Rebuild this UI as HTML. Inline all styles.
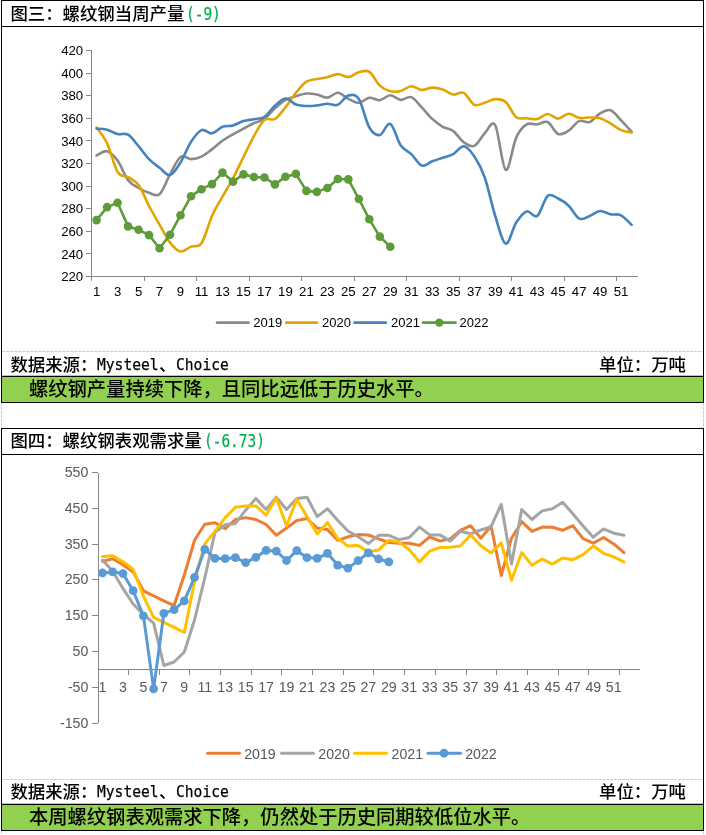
<!DOCTYPE html>
<html><head><meta charset="utf-8">
<style>
html,body{margin:0;padding:0;background:#fff}
body{width:706px;height:835px;position:relative;overflow:hidden}
.hl{position:absolute;left:1px;width:703px;height:1px;background:#000}
.vl{position:absolute;width:1px;background:#000}
.dh{position:absolute;left:2px;width:701px;height:1px;background:repeating-linear-gradient(90deg,#cbcbcb 0 3px,#fff 3px 4px)}
.dv{position:absolute;width:1px;background:repeating-linear-gradient(180deg,#cbcbcb 0 3px,#fff 3px 4px)}
.lg{position:absolute;left:2px;width:701px;height:1px;background:#a8db6e}
.green{position:absolute;left:1px;width:701px;height:25px;background:#92D050;border:1px solid #000}
.t1{position:absolute;left:10.4px;font-family:"Liberation Sans", "Noto Sans CJK SC", sans-serif;font-weight:500;font-size:17.4px;line-height:22px;color:#000;white-space:nowrap}
.lat{display:inline-block;position:relative;top:-1px;-webkit-text-stroke:0.25px #000;font-family:"DejaVu Sans Mono", "Liberation Mono", monospace;font-weight:400;font-size:16px;transform:scaleX(0.9136);transform-origin:0 0}
.num{color:#00B050;-webkit-text-stroke:0.25px #00B050;top:0;font-size:17.4px;transform:scaleX(0.8305);margin-left:2px}
.unit{left:599px}
.note{position:absolute;left:29px;font-family:"Liberation Sans", "Noto Sans CJK SC", sans-serif;font-weight:500;font-size:19.3px;line-height:24px;color:#000;white-space:nowrap}
svg{position:absolute;left:0;top:0}
</style></head><body>
<div class="hl" style="top:0px"></div>
<div class="hl" style="top:26px"></div>
<div class="vl" style="top:0px;height:403px;left:1px"></div>
<div class="vl" style="top:0px;height:403px;left:703px"></div>
<div class="dh" style="top:351px"></div>
<div class="lg" style="top:375px"></div>
<div class="green" style="top:376px"></div>
<div class="t1" style="top:3px">图三：螺纹钢当周产量<span class="lat num" style="margin-right:-7.1px">(-9)</span></div>
<div class="t1" style="top:353.6px">数据来源：<span class="lat" style="margin-right:-5.82px">Mysteel</span>、<span class="lat" style="margin-right:-4.99px">Choice</span></div>
<div class="t1 unit" style="top:353.6px">单位：万吨</div>
<div class="note" style="top:378.2px">螺纹钢产量持续下降，且同比远低于历史水平。</div>
<div class="hl" style="top:428px"></div>
<div class="hl" style="top:454px"></div>
<div class="vl" style="top:428px;height:403px;left:1px"></div>
<div class="vl" style="top:428px;height:403px;left:703px"></div>
<div class="dh" style="top:779px"></div>
<div class="lg" style="top:803px"></div>
<div class="green" style="top:804px"></div>
<div class="t1" style="top:430px">图四：螺纹钢表观需求量<span class="lat num" style="margin-right:-12.42px">(-6.73)</span></div>
<div class="t1" style="top:780.6px">数据来源：<span class="lat" style="margin-right:-5.82px">Mysteel</span>、<span class="lat" style="margin-right:-4.99px">Choice</span></div>
<div class="t1 unit" style="top:780.6px">单位：万吨</div>
<div class="note" style="top:806.2px">本周螺纹钢表观需求下降，仍然处于历史同期较低位水平。</div>
<div class="dv" style="left:1px;top:403px;height:25px"></div>
<div class="dv" style="left:703px;top:403px;height:25px"></div>
<div class="dv" style="left:1px;top:831px;height:4px"></div>
<div class="dv" style="left:703px;top:831px;height:4px"></div>
<svg width="706" height="835" viewBox="0 0 706 835">
<g fill="none" stroke="#868686" stroke-width="1">
<path d="M91.5 50 V281 M91 276.5 H638M86 276.5 H91M86 253.5 H91M86 231.5 H91M86 208.5 H91M86 186.5 H91M86 163.5 H91M86 140.5 H91M86 118.5 H91M86 95.5 H91M86 73.5 H91M86 50.5 H91M144.5 277 V281M196.5 277 V281M249.5 277 V281M301.5 277 V281M354.5 277 V281M406.5 277 V281M459.5 277 V281M511.5 277 V281M564.5 277 V281M616.5 277 V281"/>
</g>
<g font-family="Liberation Sans, Arial, sans-serif" font-size="13.2" fill="#000">
<text x="83.2" y="281.1" text-anchor="end">220</text>
<text x="83.2" y="258.5" text-anchor="end">240</text>
<text x="83.2" y="235.9" text-anchor="end">260</text>
<text x="83.2" y="213.3" text-anchor="end">280</text>
<text x="83.2" y="190.7" text-anchor="end">300</text>
<text x="83.2" y="168.1" text-anchor="end">320</text>
<text x="83.2" y="145.5" text-anchor="end">340</text>
<text x="83.2" y="122.9" text-anchor="end">360</text>
<text x="83.2" y="100.3" text-anchor="end">380</text>
<text x="83.2" y="77.7" text-anchor="end">400</text>
<text x="83.2" y="55.1" text-anchor="end">420</text>
<text x="96.6" y="295.6" text-anchor="middle">1</text>
<text x="117.58" y="295.6" text-anchor="middle">3</text>
<text x="138.56" y="295.6" text-anchor="middle">5</text>
<text x="159.54" y="295.6" text-anchor="middle">7</text>
<text x="180.52" y="295.6" text-anchor="middle">9</text>
<text x="201.5" y="295.6" text-anchor="middle">11</text>
<text x="222.48" y="295.6" text-anchor="middle">13</text>
<text x="243.46" y="295.6" text-anchor="middle">15</text>
<text x="264.44" y="295.6" text-anchor="middle">17</text>
<text x="285.42" y="295.6" text-anchor="middle">19</text>
<text x="306.4" y="295.6" text-anchor="middle">21</text>
<text x="327.38" y="295.6" text-anchor="middle">23</text>
<text x="348.36" y="295.6" text-anchor="middle">25</text>
<text x="369.34" y="295.6" text-anchor="middle">27</text>
<text x="390.32" y="295.6" text-anchor="middle">29</text>
<text x="411.3" y="295.6" text-anchor="middle">31</text>
<text x="432.28" y="295.6" text-anchor="middle">33</text>
<text x="453.26" y="295.6" text-anchor="middle">35</text>
<text x="474.24" y="295.6" text-anchor="middle">37</text>
<text x="495.22" y="295.6" text-anchor="middle">39</text>
<text x="516.2" y="295.6" text-anchor="middle">41</text>
<text x="537.18" y="295.6" text-anchor="middle">43</text>
<text x="558.16" y="295.6" text-anchor="middle">45</text>
<text x="579.14" y="295.6" text-anchor="middle">47</text>
<text x="600.12" y="295.6" text-anchor="middle">49</text>
<text x="621.1" y="295.6" text-anchor="middle">51</text>
</g>
<g fill="none" stroke-width="2.6" stroke-linecap="round" stroke-linejoin="round">
<path stroke="#8A8A8A" d="M96.6 155.5C98.35 154.78 103.59 150.35 107.09 151.2C110.59 152.05 114.08 155.78 117.58 160.6C121.08 165.42 124.57 175.53 128.07 180.1C131.57 184.67 135.06 185.88 138.56 188C142.06 190.12 145.55 191.77 149.05 192.8C152.55 193.83 156.04 197.27 159.54 194.2C163.04 191.13 166.53 180.6 170.03 174.4C173.53 168.2 177.02 159.55 180.52 157C184.02 154.45 187.51 159.17 191.01 159.1C194.51 159.03 198 158.22 201.5 156.6C205 154.98 208.49 152.05 211.99 149.4C215.49 146.75 218.98 143.2 222.48 140.7C225.98 138.2 229.47 136.4 232.97 134.4C236.47 132.4 239.96 130.57 243.46 128.7C246.96 126.83 250.45 124.83 253.95 123.2C257.45 121.57 260.94 121.38 264.44 118.9C267.94 116.42 271.43 111.47 274.93 108.3C278.43 105.13 281.92 101.92 285.42 99.9C288.92 97.88 292.41 97.27 295.91 96.2C299.41 95.13 302.9 93.78 306.4 93.5C309.9 93.22 313.39 93.82 316.89 94.5C320.39 95.18 323.88 97.88 327.38 97.6C330.88 97.32 334.37 92.6 337.87 92.8C341.37 93 344.86 97.13 348.36 98.8C351.86 100.47 355.35 102.97 358.85 102.8C362.35 102.63 365.84 98.23 369.34 97.8C372.84 97.37 376.33 100.62 379.83 100.2C383.33 99.78 386.82 95.35 390.32 95.3C393.82 95.25 397.31 99.6 400.81 99.9C404.31 100.2 407.8 95.85 411.3 97.1C414.8 98.35 418.29 103.77 421.79 107.4C425.29 111.03 428.78 115.67 432.28 118.9C435.78 122.13 439.27 124.77 442.77 126.8C446.27 128.83 449.76 128.53 453.26 131.1C456.76 133.67 460.25 139.73 463.75 142.2C467.25 144.67 470.74 147.38 474.24 145.9C477.74 144.42 481.23 136.72 484.73 133.3C488.23 129.88 491.72 119.3 495.22 125.4C498.72 131.5 502.21 167.87 505.71 169.9C509.21 171.93 512.7 145.18 516.2 137.6C519.7 130.02 523.19 126.6 526.69 124.4C530.19 122.2 533.68 124.8 537.18 124.4C540.68 124 544.17 120.4 547.67 122C551.17 123.6 554.66 132.55 558.16 134C561.66 135.45 565.15 132.85 568.65 130.7C572.15 128.55 575.64 122.53 579.14 121.1C582.64 119.67 586.13 123.38 589.63 122.1C593.13 120.82 596.62 115.37 600.12 113.4C603.62 111.43 607.11 109.15 610.61 110.3C614.11 111.45 617.6 116.75 621.1 120.3C624.6 123.85 629.84 129.72 631.59 131.6"/>
<path stroke="#E2A500" d="M96.6 127.5C98.35 130.13 103.59 135.88 107.09 143.3C110.59 150.72 114.08 166.35 117.58 172C121.08 177.65 124.57 175.02 128.07 177.2C131.57 179.38 135.06 180.3 138.56 185.1C142.06 189.9 145.55 199.4 149.05 206C152.55 212.6 156.04 218.6 159.54 224.7C163.04 230.8 166.53 238.13 170.03 242.6C173.53 247.07 177.02 250.83 180.52 251.5C184.02 252.17 187.51 247.97 191.01 246.6C194.51 245.23 198 248.4 201.5 243.3C205 238.2 208.49 223.78 211.99 216C215.49 208.22 218.98 202.85 222.48 196.6C225.98 190.35 229.47 185.1 232.97 178.5C236.47 171.9 239.96 164.07 243.46 157C246.96 149.93 250.45 142.27 253.95 136.1C257.45 129.93 260.94 122.85 264.44 120C267.94 117.15 271.43 121.1 274.93 119C278.43 116.9 281.92 111.77 285.42 107.4C288.92 103.03 292.41 97.1 295.91 92.8C299.41 88.5 302.9 83.9 306.4 81.6C309.9 79.3 313.39 79.73 316.89 79C320.39 78.27 323.88 78.02 327.38 77.2C330.88 76.38 334.37 74.13 337.87 74.1C341.37 74.07 344.86 77.32 348.36 77C351.86 76.68 355.35 73.07 358.85 72.2C362.35 71.33 365.84 69.57 369.34 71.8C372.84 74.03 376.33 82.35 379.83 85.6C383.33 88.85 386.82 90.42 390.32 91.3C393.82 92.18 397.31 91.73 400.81 90.9C404.31 90.07 407.8 86.47 411.3 86.3C414.8 86.13 418.29 89.68 421.79 89.9C425.29 90.12 428.78 87.67 432.28 87.6C435.78 87.53 439.27 88.35 442.77 89.5C446.27 90.65 449.76 93.95 453.26 94.5C456.76 95.05 460.25 91.08 463.75 92.8C467.25 94.52 470.74 103.15 474.24 104.8C477.74 106.45 481.23 103.65 484.73 102.7C488.23 101.75 491.72 99.22 495.22 99.1C498.72 98.98 502.21 98.98 505.71 102C509.21 105.02 512.7 114.5 516.2 117.2C519.7 119.9 523.19 117.9 526.69 118.2C530.19 118.5 533.68 119.7 537.18 119C540.68 118.3 544.17 114.07 547.67 114C551.17 113.93 554.66 118.65 558.16 118.6C561.66 118.55 565.15 113.83 568.65 113.7C572.15 113.57 575.64 117.17 579.14 117.8C582.64 118.43 586.13 117.43 589.63 117.5C593.13 117.57 596.62 117.2 600.12 118.2C603.62 119.2 607.11 121.52 610.61 123.5C614.11 125.48 617.6 128.58 621.1 130.1C624.6 131.62 629.84 132.18 631.59 132.6"/>
<path stroke="#4583BF" d="M96.6 128.7C98.35 128.87 103.59 128.82 107.09 129.7C110.59 130.58 114.08 133.17 117.58 134C121.08 134.83 124.57 132.67 128.07 134.7C131.57 136.73 135.06 142.13 138.56 146.2C142.06 150.27 145.55 155.5 149.05 159.1C152.55 162.7 156.04 165.15 159.54 167.8C163.04 170.45 166.53 175.88 170.03 175C173.53 174.12 177.02 168.02 180.52 162.5C184.02 156.98 187.51 147.3 191.01 141.9C194.51 136.5 198 131.53 201.5 130.1C205 128.67 208.49 133.85 211.99 133.3C215.49 132.75 218.98 128.12 222.48 126.8C225.98 125.48 229.47 126.35 232.97 125.4C236.47 124.45 239.96 122.13 243.46 121.1C246.96 120.07 250.45 119.92 253.95 119.2C257.45 118.48 260.94 119.05 264.44 116.8C267.94 114.55 271.43 108.75 274.93 105.7C278.43 102.65 281.92 98.7 285.42 98.5C288.92 98.3 292.41 103.25 295.91 104.5C299.41 105.75 302.9 105.85 306.4 106C309.9 106.15 313.39 105.77 316.89 105.4C320.39 105.03 323.88 103.9 327.38 103.8C330.88 103.7 334.37 106.17 337.87 104.8C341.37 103.43 344.86 96.57 348.36 95.6C351.86 94.63 355.35 93.68 358.85 99C362.35 104.32 365.84 121.5 369.34 127.5C372.84 133.5 376.33 135.6 379.83 135C383.33 134.4 386.82 122.15 390.32 123.9C393.82 125.65 397.31 140.47 400.81 145.5C404.31 150.53 407.8 150.75 411.3 154.1C414.8 157.45 418.29 164.4 421.79 165.6C425.29 166.8 428.78 162.62 432.28 161.3C435.78 159.98 439.27 158.9 442.77 157.7C446.27 156.5 449.76 156.02 453.26 154.1C456.76 152.18 460.25 145.83 463.75 146.2C467.25 146.57 470.74 151.08 474.24 156.3C477.74 161.52 481.23 167.55 484.73 177.5C488.23 187.45 491.72 204.98 495.22 216C498.72 227.02 502.21 242.52 505.71 243.6C509.21 244.68 512.7 227.87 516.2 222.5C519.7 217.13 523.19 212.48 526.69 211.4C530.19 210.32 533.68 218.58 537.18 216C540.68 213.42 544.17 198.82 547.67 195.9C551.17 192.98 554.66 196.87 558.16 198.5C561.66 200.13 565.15 202.35 568.65 205.7C572.15 209.05 575.64 216.88 579.14 218.6C582.64 220.32 586.13 217.27 589.63 216C593.13 214.73 596.62 211.28 600.12 211C603.62 210.72 607.11 213.58 610.61 214.3C614.11 215.02 617.6 213.53 621.1 215.3C624.6 217.07 629.84 223.3 631.59 224.9"/>
<path stroke="#5E9B3A" d="M96.6 220.1 L107.09 207.1 L117.58 202.8 L128.07 226.4 L138.56 229.7 L149.05 235.1 L159.54 248.2 L170.03 234.7 L180.52 215.2 L191.01 196.2 L201.5 189.2 L211.99 184.1 L222.48 172.6 L232.97 181.6 L243.46 174.4 L253.95 177 L264.44 177.5 L274.93 184.4 L285.42 176.8 L295.91 173.9 L306.4 190.9 L316.89 191.9 L327.38 188 L337.87 179 L348.36 179.4 L358.85 199 L369.34 219.3 L379.83 236.6 L390.32 246.8"/>
</g>
<g fill="#5E9B3A">
<circle cx="96.6" cy="220.1" r="4.3"/>
<circle cx="107.09" cy="207.1" r="4.3"/>
<circle cx="117.58" cy="202.8" r="4.3"/>
<circle cx="128.07" cy="226.4" r="4.3"/>
<circle cx="138.56" cy="229.7" r="4.3"/>
<circle cx="149.05" cy="235.1" r="4.3"/>
<circle cx="159.54" cy="248.2" r="4.3"/>
<circle cx="170.03" cy="234.7" r="4.3"/>
<circle cx="180.52" cy="215.2" r="4.3"/>
<circle cx="191.01" cy="196.2" r="4.3"/>
<circle cx="201.5" cy="189.2" r="4.3"/>
<circle cx="211.99" cy="184.1" r="4.3"/>
<circle cx="222.48" cy="172.6" r="4.3"/>
<circle cx="232.97" cy="181.6" r="4.3"/>
<circle cx="243.46" cy="174.4" r="4.3"/>
<circle cx="253.95" cy="177" r="4.3"/>
<circle cx="264.44" cy="177.5" r="4.3"/>
<circle cx="274.93" cy="184.4" r="4.3"/>
<circle cx="285.42" cy="176.8" r="4.3"/>
<circle cx="295.91" cy="173.9" r="4.3"/>
<circle cx="306.4" cy="190.9" r="4.3"/>
<circle cx="316.89" cy="191.9" r="4.3"/>
<circle cx="327.38" cy="188" r="4.3"/>
<circle cx="337.87" cy="179" r="4.3"/>
<circle cx="348.36" cy="179.4" r="4.3"/>
<circle cx="358.85" cy="199" r="4.3"/>
<circle cx="369.34" cy="219.3" r="4.3"/>
<circle cx="379.83" cy="236.6" r="4.3"/>
<circle cx="390.32" cy="246.8" r="4.3"/>
</g>
<g stroke-width="2.6" stroke-linecap="round">
<line x1="217" y1="322.6" x2="248.5" y2="322.6" stroke="#8A8A8A"/>
<line x1="286" y1="322.6" x2="317" y2="322.6" stroke="#E2A500"/>
<line x1="354.5" y1="322.6" x2="386" y2="322.6" stroke="#4583BF"/>
<line x1="423" y1="322.6" x2="455.5" y2="322.6" stroke="#5E9B3A"/>
</g>
<circle cx="439.3" cy="322.6" r="4.2" fill="#5E9B3A"/>
<g font-family="Liberation Sans, Arial, sans-serif" font-size="13" fill="#000">
<text x="253.3" y="327">2019</text>
<text x="322" y="327">2020</text>
<text x="391" y="327">2021</text>
<text x="459.5" y="327">2022</text>
</g>
<g fill="none" stroke="#868686" stroke-width="1">
<path d="M98.5 473 V723 M99 669.5 H640M92 723.5 H98M92 687.5 H98M92 651.5 H98M92 615.5 H98M92 579.5 H98M92 544.5 H98M92 508.5 H98M92 472.5 H98M128.5 670 V675M159.5 670 V675M189.5 670 V675M220.5 670 V675M251.5 670 V675M281.5 670 V675M312.5 670 V675M343.5 670 V675M373.5 670 V675M404.5 670 V675M435.5 670 V675M466.5 670 V675M496.5 670 V675M527.5 670 V675M558.5 670 V675M588.5 670 V675M619.5 670 V675"/>
</g>
<g font-family="Liberation Sans, Arial, sans-serif" font-size="14.2" fill="#595959">
<text x="88.4" y="728" text-anchor="end">-150</text>
<text x="88.4" y="692" text-anchor="end">-50</text>
<text x="88.4" y="656" text-anchor="end">50</text>
<text x="88.4" y="620" text-anchor="end">150</text>
<text x="88.4" y="584" text-anchor="end">250</text>
<text x="88.4" y="549" text-anchor="end">350</text>
<text x="88.4" y="513" text-anchor="end">450</text>
<text x="88.4" y="477" text-anchor="end">550</text>
<text x="102.5" y="692.3" text-anchor="middle">1</text>
<text x="122.95" y="692.3" text-anchor="middle">3</text>
<text x="143.4" y="692.3" text-anchor="middle">5</text>
<text x="163.85" y="692.3" text-anchor="middle">7</text>
<text x="184.3" y="692.3" text-anchor="middle">9</text>
<text x="204.75" y="692.3" text-anchor="middle">11</text>
<text x="225.2" y="692.3" text-anchor="middle">13</text>
<text x="245.65" y="692.3" text-anchor="middle">15</text>
<text x="266.1" y="692.3" text-anchor="middle">17</text>
<text x="286.55" y="692.3" text-anchor="middle">19</text>
<text x="307" y="692.3" text-anchor="middle">21</text>
<text x="327.45" y="692.3" text-anchor="middle">23</text>
<text x="347.9" y="692.3" text-anchor="middle">25</text>
<text x="368.35" y="692.3" text-anchor="middle">27</text>
<text x="388.8" y="692.3" text-anchor="middle">29</text>
<text x="409.25" y="692.3" text-anchor="middle">31</text>
<text x="429.7" y="692.3" text-anchor="middle">33</text>
<text x="450.15" y="692.3" text-anchor="middle">35</text>
<text x="470.6" y="692.3" text-anchor="middle">37</text>
<text x="491.05" y="692.3" text-anchor="middle">39</text>
<text x="511.5" y="692.3" text-anchor="middle">41</text>
<text x="531.95" y="692.3" text-anchor="middle">43</text>
<text x="552.4" y="692.3" text-anchor="middle">45</text>
<text x="572.85" y="692.3" text-anchor="middle">47</text>
<text x="593.3" y="692.3" text-anchor="middle">49</text>
<text x="613.75" y="692.3" text-anchor="middle">51</text>
</g>
<g fill="none" stroke-width="3" stroke-linecap="round" stroke-linejoin="round">
<path stroke="#ED7D31" d="M102.5 561.4 L112.72 558.7 L122.95 564.7 L133.18 571.9 L143.4 590.8 L153.62 595.8 L163.85 600.8 L174.07 605.6 L184.3 575 L194.52 540.3 L204.75 524.3 L214.97 522.8 L225.2 528.6 L235.42 519.5 L245.65 517.6 L255.88 519.5 L266.1 524.5 L276.32 535.2 L286.55 528.1 L296.77 520.5 L307 518.5 L317.23 528.1 L327.45 529.6 L337.67 540.3 L347.9 536.8 L358.12 534.6 L368.35 535 L378.57 538.9 L388.8 542.5 L399.02 543.2 L409.25 543.2 L419.47 545.4 L429.7 536.8 L439.93 541.1 L450.15 538.9 L460.38 530.3 L470.6 525.7 L480.82 538.2 L491.05 526 L501.27 575.5 L511.5 538.2 L521.72 521.7 L531.95 531.4 L542.17 527.1 L552.4 527.2 L562.62 530.3 L572.85 525.7 L583.08 538.6 L593.3 543.2 L603.52 537.5 L613.75 543.9 L623.98 552.6"/>
<path stroke="#A5A5A5" d="M102.5 560.1 L112.72 571.2 L122.95 588.4 L133.18 604 L143.4 614.5 L153.62 623.1 L163.85 665.5 L174.07 662 L184.3 652 L194.52 620 L204.75 578 L214.97 532.4 L225.2 524.8 L235.42 523.4 L245.65 510.2 L255.88 498.4 L266.1 509.5 L276.32 497.2 L286.55 509.5 L296.77 498.4 L307 497.2 L317.23 516.6 L327.45 508.7 L337.67 520.2 L347.9 531 L358.12 536.8 L368.35 543.6 L378.57 535.3 L388.8 535.3 L399.02 539.6 L409.25 537.5 L419.47 527.1 L429.7 534.9 L439.93 534.9 L450.15 541.1 L460.38 531.3 L470.6 533.9 L480.82 530 L491.05 526.7 L501.27 504.4 L511.5 564.1 L521.72 509.5 L531.95 519.5 L542.17 510.9 L552.4 508.7 L562.62 502.3 L572.85 513.8 L583.08 526 L593.3 537.2 L603.52 528.9 L613.75 533.2 L623.98 535.3"/>
<path stroke="#FFC000" d="M102.5 556.4 L112.72 555.8 L122.95 561.8 L133.18 569.3 L143.4 596 L153.62 617.4 L163.85 622.4 L174.07 627.4 L184.3 632.5 L194.52 581.5 L204.75 543.9 L214.97 531.4 L225.2 517.6 L235.42 507.3 L245.65 505.9 L255.88 505.9 L266.1 515.2 L276.32 498 L286.55 526 L296.77 499.4 L307 516.6 L317.23 533.9 L327.45 522.4 L337.67 538.2 L347.9 546.1 L358.12 545.4 L368.35 551.8 L378.57 550.1 L388.8 540.1 L399.02 542.1 L409.25 549.7 L419.47 561.9 L429.7 551.1 L439.93 547.5 L450.15 547.2 L460.38 546 L470.6 534.9 L480.82 545.8 L491.05 553 L501.27 542.9 L511.5 580.3 L521.72 552.6 L531.95 565.1 L542.17 559 L552.4 564.1 L562.62 558 L572.85 559.7 L583.08 554.7 L593.3 545.8 L603.52 553.3 L613.75 556.9 L623.98 561.9"/>
<path stroke="#5B9BD5" d="M102.5 573 L112.72 571.9 L122.95 573.6 L133.18 590.7 L143.4 615.9 L153.62 688.9 L163.85 613.3 L174.07 609.7 L184.3 600.9 L194.52 577.3 L204.75 549.4 L214.97 558.3 L225.2 558.7 L235.42 557.6 L245.65 562.6 L255.88 557.3 L266.1 550.4 L276.32 551.2 L286.55 560.5 L296.77 550.7 L307 557.6 L317.23 558.3 L327.45 553.3 L337.67 565.1 L347.9 568.1 L358.12 560.7 L368.35 552.8 L378.57 559 L388.8 561.9"/>
</g>
<g fill="#5B9BD5">
<circle cx="102.5" cy="573" r="4.4"/>
<circle cx="112.72" cy="571.9" r="4.4"/>
<circle cx="122.95" cy="573.6" r="4.4"/>
<circle cx="133.18" cy="590.7" r="4.4"/>
<circle cx="143.4" cy="615.9" r="4.4"/>
<circle cx="153.62" cy="688.9" r="4.4"/>
<circle cx="163.85" cy="613.3" r="4.4"/>
<circle cx="174.07" cy="609.7" r="4.4"/>
<circle cx="184.3" cy="600.9" r="4.4"/>
<circle cx="194.52" cy="577.3" r="4.4"/>
<circle cx="204.75" cy="549.4" r="4.4"/>
<circle cx="214.97" cy="558.3" r="4.4"/>
<circle cx="225.2" cy="558.7" r="4.4"/>
<circle cx="235.42" cy="557.6" r="4.4"/>
<circle cx="245.65" cy="562.6" r="4.4"/>
<circle cx="255.88" cy="557.3" r="4.4"/>
<circle cx="266.1" cy="550.4" r="4.4"/>
<circle cx="276.32" cy="551.2" r="4.4"/>
<circle cx="286.55" cy="560.5" r="4.4"/>
<circle cx="296.77" cy="550.7" r="4.4"/>
<circle cx="307" cy="557.6" r="4.4"/>
<circle cx="317.23" cy="558.3" r="4.4"/>
<circle cx="327.45" cy="553.3" r="4.4"/>
<circle cx="337.67" cy="565.1" r="4.4"/>
<circle cx="347.9" cy="568.1" r="4.4"/>
<circle cx="358.12" cy="560.7" r="4.4"/>
<circle cx="368.35" cy="552.8" r="4.4"/>
<circle cx="378.57" cy="559" r="4.4"/>
<circle cx="388.8" cy="561.9" r="4.4"/>
</g>
<g stroke-width="3" stroke-linecap="round">
<line x1="207.5" y1="753.2" x2="239.5" y2="753.2" stroke="#ED7D31"/>
<line x1="281.5" y1="753.2" x2="313.5" y2="753.2" stroke="#A5A5A5"/>
<line x1="354.5" y1="753.2" x2="386.5" y2="753.2" stroke="#FFC000"/>
<line x1="428" y1="753.2" x2="460.5" y2="753.2" stroke="#5B9BD5"/>
</g>
<circle cx="444" cy="753.2" r="4.4" fill="#5B9BD5"/>
<g font-family="Liberation Sans, Arial, sans-serif" font-size="14.2" fill="#595959">
<text x="244.2" y="759.1">2019</text>
<text x="318.3" y="759.1">2020</text>
<text x="391.5" y="759.1">2021</text>
<text x="465.2" y="759.1">2022</text>
</g>
</svg>
</body></html>
